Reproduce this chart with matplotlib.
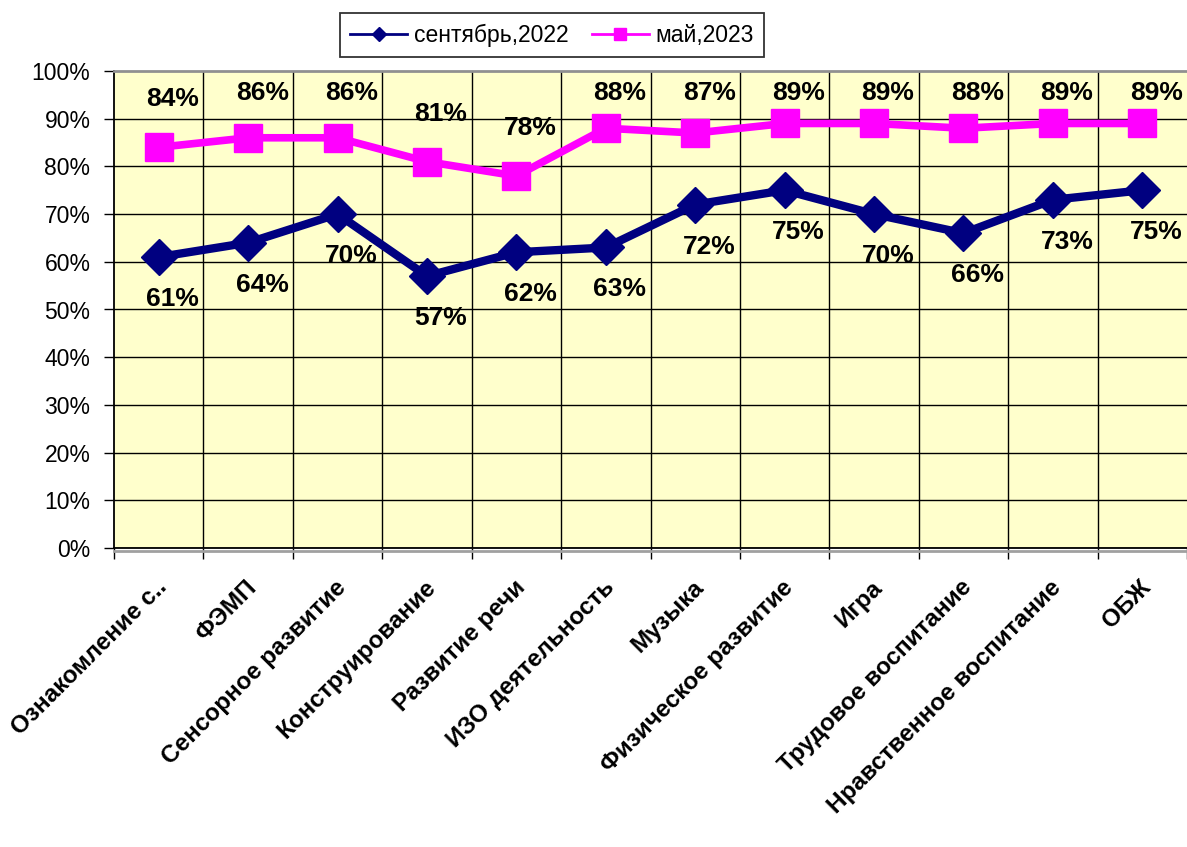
import matplotlib
matplotlib.use("Agg")
import matplotlib.pyplot as plt
from matplotlib.lines import Line2D
import matplotlib.transforms as mtransforms

categories = ["Ознакомление с..", "ФЭМП", "Сенсорное развитие", "Конструирование",
              "Развитие речи", "ИЗО деятельность", "Музыка", "Физическое развитие",
              "Игра", "Трудовое воспитание", "Нравственное воспитание", "ОБЖ"]
sept_2022 = [61, 64, 70, 57, 62, 63, 72, 75, 70, 66, 73, 75]
may_2023 = [84, 86, 86, 81, 78, 88, 87, 89, 89, 88, 89, 89]
yticks = list(range(0, 101, 10))
series_names = ["сентябрь,2022", "май,2023"]

plt.rcParams['font.family'] = ['Liberation Sans', 'DejaVu Sans']

W, H = 1187, 847
fig = plt.figure(figsize=(W/100, H/100), dpi=100)
top_px, bot_px, left_px = 71, 548, 114
ax = fig.add_axes([left_px/W, 1-bot_px/H, 1-left_px/W, (bot_px-top_px)/H])
ax.set_facecolor('#FFFFCC')

n = len(categories)
x = list(range(n))
ax.set_xlim(-0.5, n - 0.5)
ax.set_ylim(0, 100)

for v in yticks[:-1]:
    ax.axhline(v, color='black', lw=1, zorder=1)
for b in range(1, n):
    ax.axvline(b - 0.5, color='black', lw=1, zorder=1)

ax.plot(x, sept_2022, color='#000080', lw=6, marker='D', markersize=18,
        zorder=3, solid_joinstyle='round')
ax.plot(x, may_2023, color='#FF00FF', lw=5.5, marker='s', markersize=19.5,
        zorder=3)

px_per_unit = (bot_px - top_px) / 100.0
clamp = 100 - (93 - top_px) / px_per_unit
for xi, v in zip(x, sept_2022):
    ax.text(xi + 14/89.4, v - 42/px_per_unit, f"{v}%", ha='center', va='center',
            fontsize=19, fontweight='bold', zorder=4)
for xi, v in zip(x, may_2023):
    ax.text(xi + 14/89.4, min(v + 48/px_per_unit, clamp), f"{v}%", ha='center',
            va='center', fontsize=19, fontweight='bold', zorder=4)

ax.set_yticks(yticks)
ax.set_yticklabels([f"{v}%" for v in yticks], fontsize=16.5)
ax.tick_params(axis='y', direction='out', length=7, width=1, pad=10)

ax.set_xticks([i - 0.5 for i in range(n + 1)])
ax.set_xticklabels([])
ax.tick_params(axis='x', direction='out', length=8, width=1)
ax.set_xticks(x, minor=True)
ax.set_xticklabels(categories, minor=True, rotation=45, ha='right',
                   rotation_mode='anchor', fontsize=17.5, fontweight='bold')
ax.tick_params(axis='x', which='minor', length=0, pad=20)
shift = mtransforms.ScaledTranslation(-3/100, 0, fig.dpi_scale_trans)
for lbl in ax.get_xticklabels(minor=True):
    lbl.set_transform(lbl.get_transform() + shift)

ax.spines['right'].set_visible(False)
ax.spines['top'].set_color('#909090')
ax.spines['top'].set_linewidth(2)
ax.spines['left'].set_color('black')
ax.spines['bottom'].set_color('black')
ax.spines['left'].set_linewidth(1.3)
ax.spines['bottom'].set_linewidth(1.3)

# shadow line under plot area
fig.add_artist(Line2D([left_px/W, 1], [1-550.5/H, 1-550.5/H], color='#A0A0A0', lw=2))

handles = [Line2D([], [], color='#000080', lw=2, marker='D', markersize=7),
           Line2D([], [], color='#FF00FF', lw=2, marker='s', markersize=9)]
leg = fig.legend(handles, series_names, loc='center', bbox_to_anchor=(552/W, 1-35/H),
                 ncol=2, fontsize=16.5, frameon=True, fancybox=False, edgecolor='black',
                 handlelength=2.5, handletextpad=0.3, columnspacing=1.0, borderpad=0.45)
leg.get_frame().set_linewidth(1.3)

fig.savefig("out.png", dpi=100, facecolor='white')
